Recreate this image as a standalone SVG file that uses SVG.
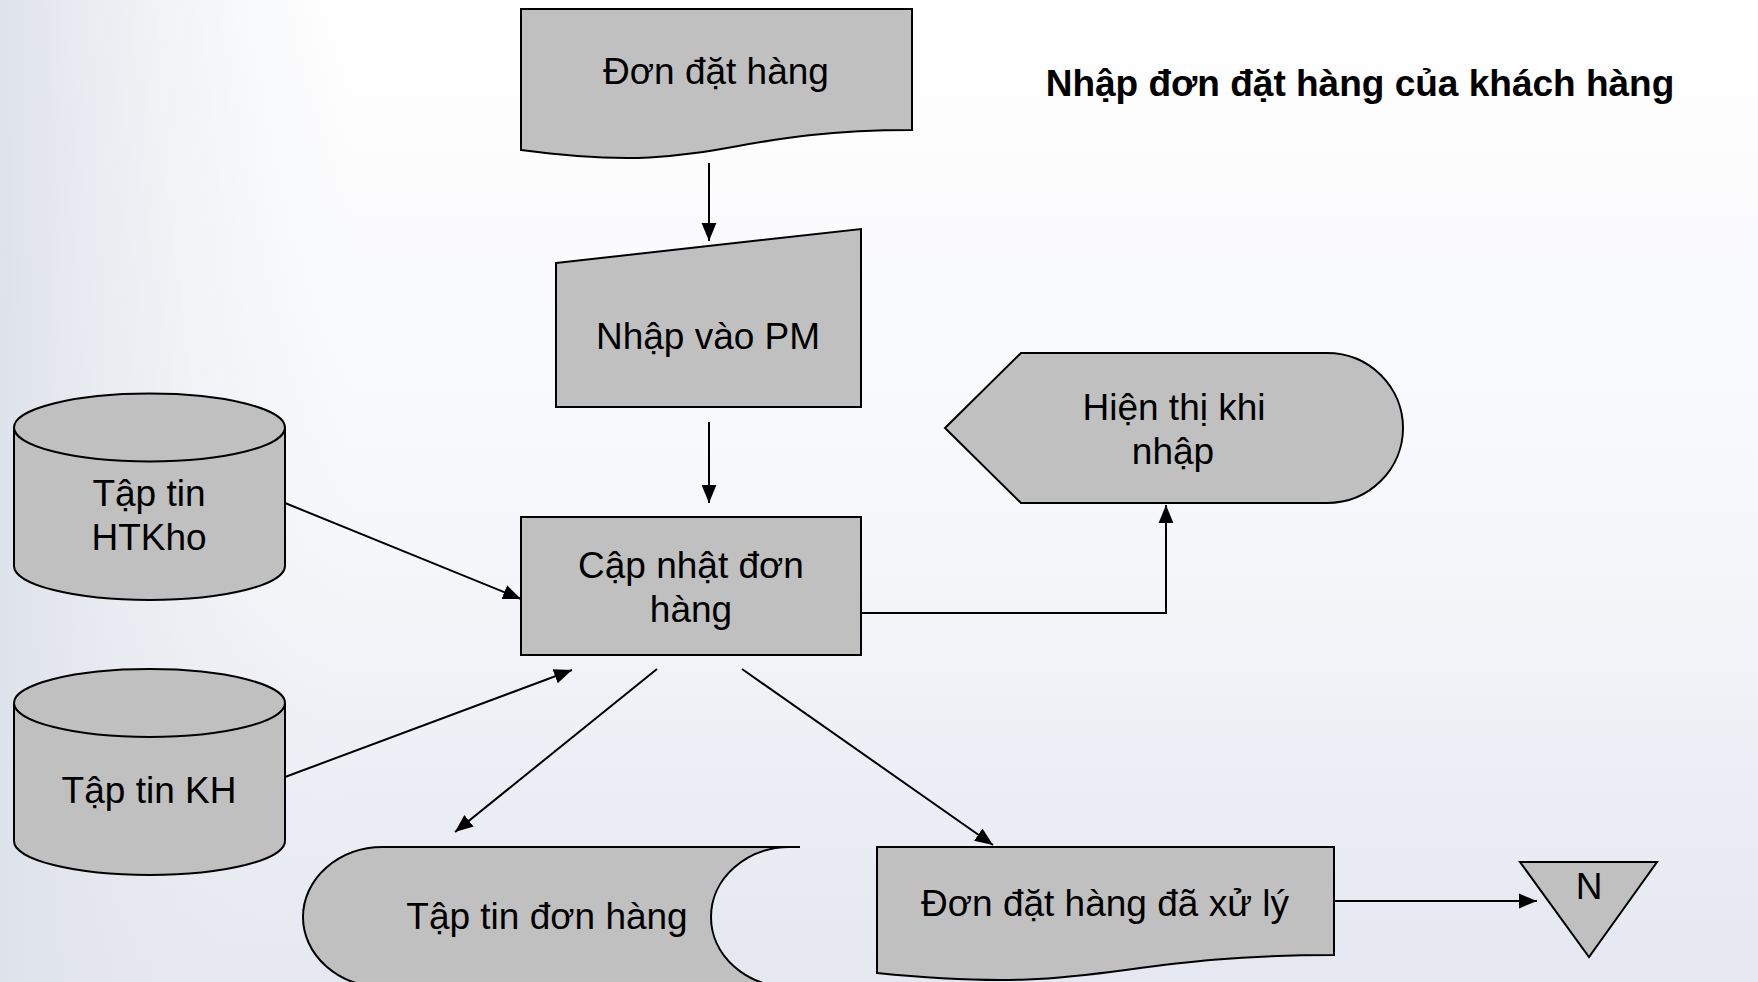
<svg xmlns="http://www.w3.org/2000/svg" width="1758" height="982" viewBox="0 0 1758 982">
<defs>
<linearGradient id="bgV" x1="0" y1="0" x2="0" y2="1">
<stop offset="0" stop-color="#FFFFFF"/>
<stop offset="0.55" stop-color="#F6F7FA"/>
<stop offset="1" stop-color="#E5E7F1"/>
</linearGradient>
<linearGradient id="bgH" x1="0" y1="0" x2="1" y2="0">
<stop offset="0" stop-color="#DEE2EA" stop-opacity="1"/>
<stop offset="0.2" stop-color="#EEF0F4" stop-opacity="0"/>
</linearGradient>
<marker id="arr" markerUnits="userSpaceOnUse" markerWidth="18" markerHeight="18" viewBox="0 0 17 16" refX="17" refY="8" orient="auto">
<path d="M0,1 L17,8 L0,15 Z" fill="#000"/>
</marker>
<style>
.shape{fill:#C0C0C0;stroke:#000;stroke-width:2;}
.line{fill:none;stroke:#000;stroke-width:2;}
.conn{fill:none;stroke:#000;stroke-width:2;marker-end:url(#arr);}
.t{font-family:"Liberation Sans",Arial,sans-serif;font-size:37px;fill:#000;text-anchor:middle;}
.title{font-family:"Liberation Sans",Arial,sans-serif;font-size:37px;font-weight:bold;fill:#000;text-anchor:middle;}
</style>
</defs>
<rect x="0" y="0" width="1758" height="982" fill="url(#bgV)"/>
<rect x="0" y="0" width="1758" height="982" fill="url(#bgH)"/>

<text class="title" x="1360" y="96">Nhập đơn đặt hàng của khách hàng</text>

<g id="connectors">
<path class="conn" d="M709,163 L709,241"/>
<path class="conn" d="M709,422 L709,503"/>
<path class="conn" d="M285,503 L521,599"/>
<path class="conn" d="M285,777 L572,670"/>
<path class="conn" d="M657,669 L455,832"/>
<path class="conn" d="M742,669 L993,845"/>
<path class="conn" d="M861,613 H1166 V505"/>
<path class="conn" d="M1334,901 L1537,901"/>
</g>

<g id="don-dat-hang">
<path class="shape" d="M521,9 H912 V130 C716.5,130 716.5,176 521,150 Z"/>
<text class="t" x="716" y="84">Đơn đặt hàng</text>
</g>

<g id="nhap-vao-pm">
<path class="shape" d="M556,263 L861,229 V407 H556 Z"/>
<text class="t" x="708" y="349">Nhập vào PM</text>
</g>

<g id="cap-nhat">
<rect class="shape" x="521" y="517" width="340" height="138"/>
<text class="t" x="691" y="578">Cập nhật đơn</text>
<text class="t" x="691" y="622">hàng</text>
</g>

<g id="tap-tin-htkho">
<path class="shape" d="M14,427.5 A135.5,34 0 0 1 285,427.5 V566 A135.5,34 0 0 1 14,566 Z"/>
<path class="line" d="M14,427.5 A135.5,34 0 0 0 285,427.5"/>
<text class="t" x="149" y="506">Tập tin</text>
<text class="t" x="149" y="550">HTKho</text>
</g>

<g id="tap-tin-kh">
<path class="shape" d="M14,703 A135.5,34 0 0 1 285,703 V841 A135.5,34 0 0 1 14,841 Z"/>
<path class="line" d="M14,703 A135.5,34 0 0 0 285,703"/>
<text class="t" x="149" y="803">Tập tin KH</text>
</g>

<g id="hien-thi">
<path class="shape" d="M945,428 L1021,353 H1327 A76,75 0 0 1 1327,503 H1021 Z"/>
<text class="t" x="1174" y="420">Hiện thị khi</text>
<text class="t" x="1173" y="464">nhập</text>
</g>

<g id="tap-tin-don-hang">
<path class="shape" d="M383,847 H790 A79,70 0 0 0 790,987 H383 A80,70 0 0 1 383,847 Z"/>
<path class="line" d="M788,847 H800"/>
<text class="t" x="547" y="929">Tập tin đơn hàng</text>
</g>

<g id="don-da-xu-ly">
<path class="shape" d="M877,847 H1334 V955 C1105.5,955 1105.5,996 877,973 Z"/>
<text class="t" x="1105" y="916">Đơn đặt hàng đã xử lý</text>
</g>

<g id="off-page-n">
<path class="shape" d="M1520,862 H1657 L1589,957 Z"/>
<text class="t" x="1589" y="899">N</text>
</g>
</svg>
